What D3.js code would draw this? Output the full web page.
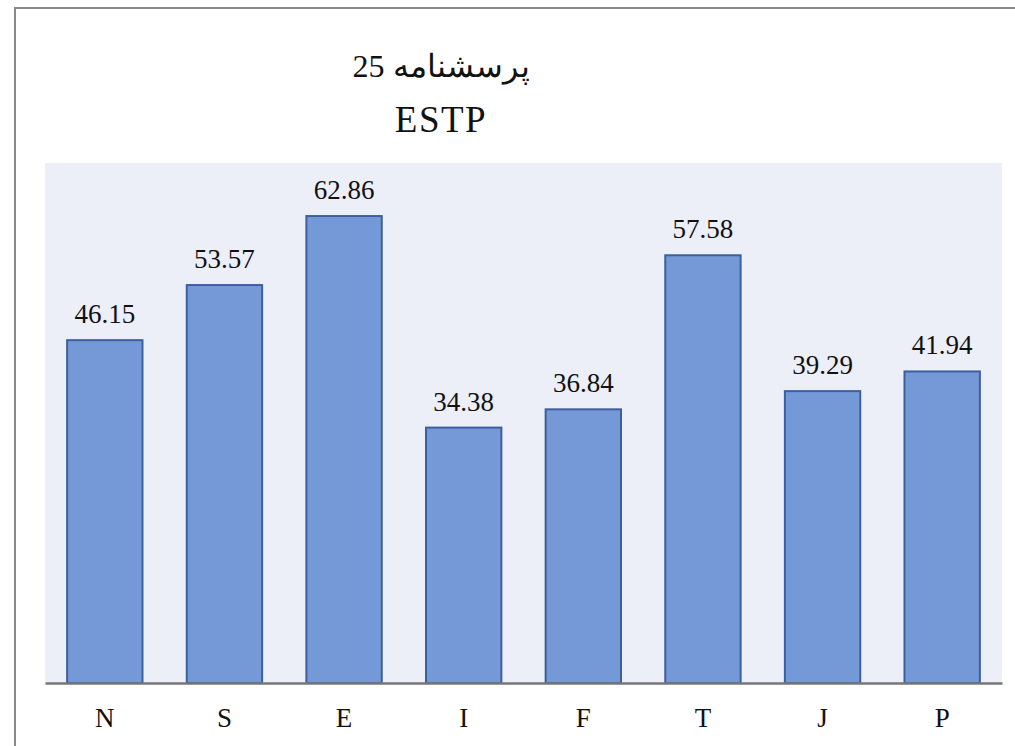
<!DOCTYPE html>
<html>
<head>
<meta charset="utf-8">
<script src="https://cdn.jsdelivr.net/npm/d3@7"></script>
</head>
<body style="margin:0">
<div id="chart"></div>
<script>
// chart data
var categories = ["N", "S", "E", "I", "F", "T", "J", "P"];
var values = [46.15, 53.57, 62.86, 34.38, 36.84, 57.58, 39.29, 41.94];
var titleLines = ["پرسشنامه 25", "ESTP"];

var svgWidth = 1015;
var svgHeight = 746;
var serifFont = "Times New Roman";

var plot = { left: 45, right: 1002, top: 163, bottom: 683 };

var svg = d3.select("#chart")
  .append("svg")
  .attr("width", svgWidth)
  .attr("height", svgHeight)
  .attr("font-family", serifFont);

// outer frame (runs off the right and bottom edge)
svg.append("rect")
  .attr("x", 15)
  .attr("y", 8)
  .attr("width", 1100)
  .attr("height", 900)
  .attr("fill", "none")
  .attr("stroke", "#8a8a8a")
  .attr("stroke-width", 2);

// plot background
svg.append("rect")
  .attr("x", plot.left)
  .attr("y", plot.top)
  .attr("width", plot.right - plot.left)
  .attr("height", plot.bottom - plot.top)
  .attr("fill", "#eceef8");

// scales
var x = d3.scaleBand()
  .domain(categories)
  .range([plot.left, plot.right])
  .paddingInner(0.37)
  .paddingOuter(0.185);

var y = d3.scaleLinear()
  .domain([0, 70])
  .range([plot.bottom, plot.top]);

// bars
svg.append("g").selectAll("rect")
  .data(values)
  .enter()
  .append("rect")
  .attr("x", (d, i) => x(categories[i]))
  .attr("y", d => y(d))
  .attr("width", x.bandwidth())
  .attr("height", d => y(0) - y(d))
  .attr("fill", "#7599d7")
  .attr("stroke", "#3e5f9f")
  .attr("stroke-width", 2);

// value labels
svg.append("g").selectAll("text")
  .data(values)
  .enter()
  .append("text")
  .attr("x", (d, i) => x(categories[i]) + x.bandwidth() / 2)
  .attr("y", d => y(d) - 17)
  .attr("font-family", serifFont)
  .attr("font-size", 27)
  .attr("text-anchor", "middle")
  .attr("fill", "#111")
  .text(d => d.toFixed(2));

// x axis
var axisG = svg.append("g")
  .attr("transform", `translate(0, ${plot.bottom})`)
  .call(d3.axisBottom(x).tickSize(0).tickPadding(0))
  .attr("font-family", serifFont)
  .attr("font-size", 27);
axisG.select(".domain")
  .attr("stroke", "#777")
  .attr("stroke-width", 2.5);
axisG.selectAll(".tick text")
  .attr("dy", null)
  .attr("y", 44)
  .attr("fill", "#111");

// title
svg.append("text")
  .attr("x", 441)
  .attr("y", 77)
  .attr("font-family", serifFont)
  .attr("font-size", 32)
  .attr("direction", "rtl")
  .attr("text-anchor", "middle")
  .attr("fill", "#111")
  .text(titleLines[0]);

svg.append("text")
  .attr("x", 441)
  .attr("y", 132)
  .attr("font-family", serifFont)
  .attr("font-size", 37)
  .attr("letter-spacing", 1.5)
  .attr("text-anchor", "middle")
  .attr("fill", "#111")
  .text(titleLines[1]);
</script>
</body>
</html>
